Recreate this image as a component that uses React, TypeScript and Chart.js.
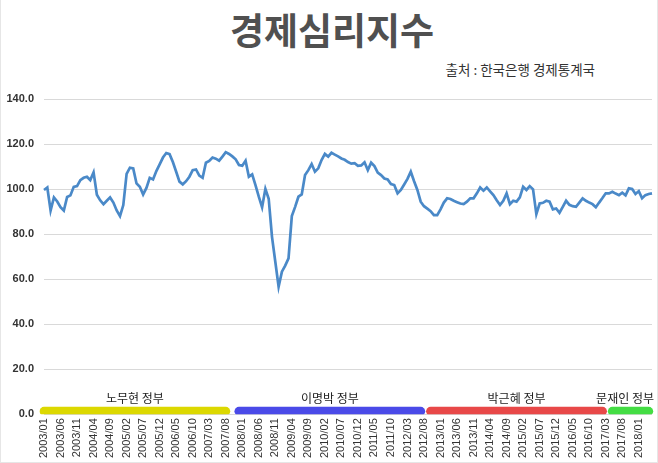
import React, { useEffect, useRef } from 'react';
import { Chart, registerables } from 'chart.js';

Chart.register(...registerables);

// ---- data ----
const startYear = 2003;
const monthCount = 185; // 2003/01 .. 2018/05
const categories: string[] = Array.from({ length: monthCount }, (_, i) => {
  const y = startYear + Math.floor(i / 12);
  const m = (i % 12) + 1;
  return `${y}/${m < 10 ? '0' + m : m}`;
});

const esiValues: number[] = [
  99.6, 100.7, 90.5, 96.3, 94.5, 92.0, 90.5, 96.5, 97.2, 101.0,
  101.3, 104.0, 105.0, 105.5, 104.0, 107.4, 97.5, 95.0, 93.3, 94.8,
  96.3, 94.0, 90.5, 88.0, 92.9, 106.7, 109.5, 109.2, 102.5, 101.0,
  97.6, 100.5, 105.0, 104.3, 108.0, 111.0, 114.0, 116.0, 115.5, 112.0,
  107.7, 103.3, 102.1, 103.5, 105.5, 108.4, 108.7, 106.0, 105.0, 111.7,
  112.5, 114.0, 113.5, 112.6, 114.4, 116.4, 115.6, 114.5, 113.2, 110.7,
  110.4, 112.6, 105.5, 106.5, 101.8, 96.6, 91.9, 100.1, 95.7, 78.8,
  67.7, 56.6, 63.3, 66.0, 69.2, 88.0, 92.1, 96.6, 97.6, 106.2,
  108.4, 111.1, 107.7, 109.2, 112.9, 115.6, 114.4, 116.1, 115.3, 114.5,
  113.6, 113.0, 112.0, 111.3, 111.5, 110.3, 110.5, 111.9, 108.4, 111.7,
  110.2, 107.3, 106.2, 104.7, 104.3, 102.2, 101.8, 98.1, 99.6, 102.0,
  104.5, 107.7, 103.5, 99.6, 94.4, 92.4, 91.3, 90.2, 88.4, 88.4,
  91.0, 94.0, 95.9, 95.6, 94.8, 94.2, 93.6, 93.3, 94.4, 95.9,
  95.9, 98.1, 100.7, 99.3, 100.7, 99.0, 97.3, 95.0, 92.9, 94.8,
  98.1, 93.3, 94.8, 94.4, 96.3, 101.0, 99.6, 101.3, 99.9, 88.9,
  93.6, 93.9, 94.8, 94.4, 91.0, 91.4, 89.5, 92.1, 94.8, 93.0,
  92.4, 92.1, 94.0, 95.9, 94.8, 94.0, 93.3, 91.9, 94.0, 96.0,
  98.1, 98.1, 98.8, 98.0, 97.3, 98.4, 97.2, 100.3, 100.0, 97.8,
  99.1, 95.9, 97.3, 97.8, 98.1,
];

const tickEvery = 5;
const yMin = 0;
const yMax = 140;
const yStep = 20;

const govNames = ['노무현 정부', '이명박 정부', '박근혜 정부', '문재인 정부'];
const govStartIdx = [0, 59, 117, 172];
const govEndIdx = [55, 114, 169, 183];
const govColors = ['#dcd800', '#4a4ae8', '#e84848', '#44dd44'];
const govLevel = 1.3;

const titleText = '경제심리지수';
const sourceText = '출처 : 한국은행 경제통계국';

const KR_FONT = '"Noto Sans CJK KR", "Noto Sans", sans-serif';

const govLabelPlugin = {
  id: 'govLabels',
  afterDatasetsDraw(chart: any) {
    const { ctx, scales } = chart;
    const xs = scales.x;
    const ys = scales.y;
    ctx.save();
    ctx.font = `12px ${KR_FONT}`;
    ctx.fillStyle = '#222';
    ctx.textAlign = 'center';
    ctx.textBaseline = 'middle';
    govNames.forEach((name, i) => {
      const x0 = xs.getPixelForValue(govStartIdx[i]);
      const x1 = xs.getPixelForValue(govEndIdx[i]);
      let cx = (x0 + x1) / 2;
      const w = ctx.measureText(name).width;
      const maxX = chart.width - 3 - w / 2;
      if (cx > maxX) cx = maxX;
      const y = ys.getPixelForValue(govLevel) - 12.5;
      ctx.fillText(name, cx, y);
    });
    ctx.restore();
  },
};

export default function App() {
  const canvasRef = useRef<HTMLCanvasElement | null>(null);

  useEffect(() => {
    if (!canvasRef.current) return;
    const govDatasets = govNames.map((name, i) => ({
      label: name,
      data: categories.map((_, idx) =>
        idx >= govStartIdx[i] && idx <= govEndIdx[i] ? govLevel : null
      ),
      borderColor: govColors[i],
      backgroundColor: govColors[i],
      borderWidth: 9,
      borderCapStyle: 'round' as const,
      pointRadius: 0,
      spanGaps: false,
      fill: false,
      order: 1,
    }));
    const chart = new Chart(canvasRef.current, {
      type: 'line',
      data: {
        labels: categories,
        datasets: [
          {
            label: '경제심리지수',
            data: esiValues,
            borderColor: '#4a89c8',
            backgroundColor: '#4a89c8',
            borderWidth: 2.7,
            pointRadius: 0,
            tension: 0,
            fill: false,
            order: 0,
          },
          ...govDatasets,
        ],
      },
      options: {
        animation: false,
        responsive: true,
        maintainAspectRatio: false,
        layout: { padding: { top: 99, left: 6, right: 5, bottom: 0 } },
        plugins: {
          legend: { display: false },
          tooltip: { enabled: false },
          title: { display: false },
        },
        scales: {
          x: {
            type: 'category',
            offset: false,
            grid: { display: false, drawTicks: false },
            border: { display: false },
            afterFit: (scale: any) => {
              scale.paddingLeft = 0;
              scale.paddingRight = 0;
            },
            ticks: {
              autoSkip: false,
              minRotation: 90,
              maxRotation: 90,
              padding: 4,
              color: '#333',
              font: { family: '"Liberation Sans", Arial, sans-serif', size: 11 },
              callback: (_v: any, idx: number) =>
                idx % tickEvery === 0 ? categories[idx] : '',
            },
          },
          y: {
            min: yMin,
            max: yMax,
            grid: { color: '#d9d9d9', lineWidth: 1, drawTicks: false },
            border: { display: false },
            afterFit: (scale: any) => {
              scale.width = 37;
            },
            ticks: {
              stepSize: yStep,
              padding: 10,
              color: '#333',
              font: { family: '"Liberation Sans", Arial, sans-serif', size: 11, weight: 'bold' },
              callback: (v: any) => Number(v).toFixed(1),
            },
          },
        },
      },
      plugins: [govLabelPlugin],
    });
    return () => chart.destroy();
  }, []);

  return (
    <div
      style={{
        position: 'absolute',
        left: 0,
        top: 0,
        width: 658,
        height: 463,
        background: '#fff',
        boxSizing: 'border-box',
        borderRight: '1px solid #e6e6e6',
        borderBottom: '1px solid #e6e6e6',
        borderLeft: '1px solid #e6e6e6',
      }}
    >
      <div
        style={{
          position: 'absolute',
          left: 0,
          top: 11,
          width: 662,
          textAlign: 'center',
          fontFamily: KR_FONT,
          fontWeight: 'bold',
          fontSize: 37,
          lineHeight: 1,
          color: '#505050',
        }}
      >
        {titleText}
      </div>
      <div
        style={{
          position: 'absolute',
          right: 62,
          top: 63,
          fontFamily: KR_FONT,
          fontSize: 13.5,
          lineHeight: 1,
          color: '#333',
          whiteSpace: 'nowrap',
        }}
      >
        {sourceText}
      </div>
      <div style={{ position: 'absolute', left: 0, top: 0, width: '100%', height: '100%' }}>
        <canvas ref={canvasRef} />
      </div>
    </div>
  );
}
